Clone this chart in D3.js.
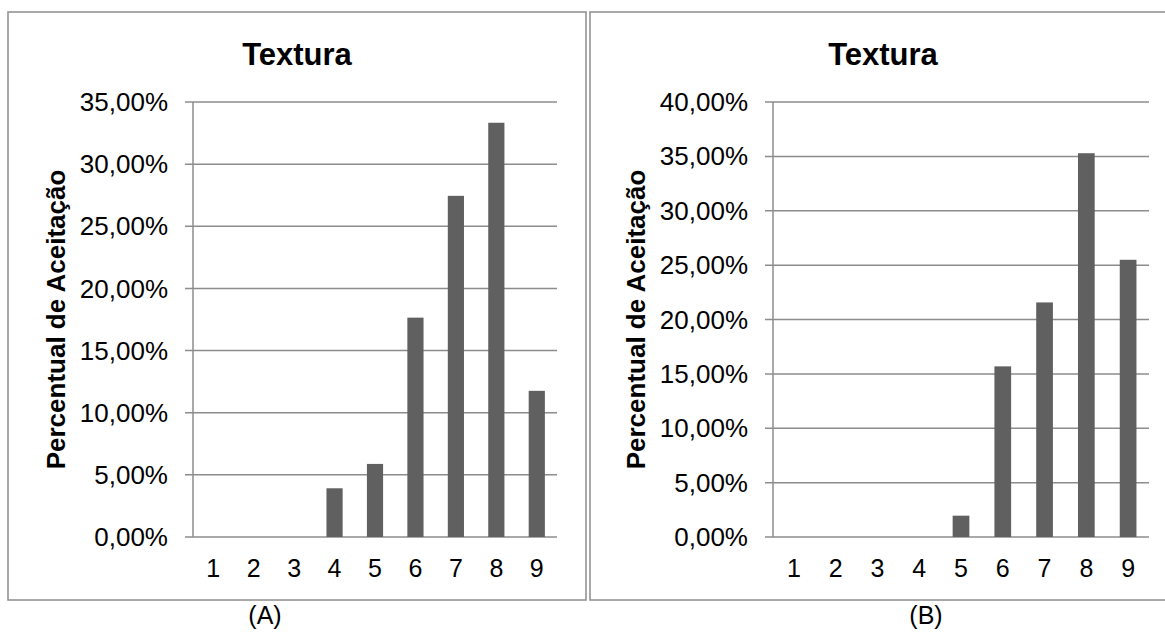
<!DOCTYPE html>
<html>
<head>
<meta charset="utf-8">
<script src="https://cdn.jsdelivr.net/npm/d3@7"></script>
<style>
  html, body { margin: 0; padding: 0; background: #fff; }
  svg { display: block; font-family: "Liberation Sans", Arial, sans-serif; }
</style>
</head>
<body>
<svg id="chart" width="1165" height="632"></svg>
<script>
// ---- data ----
const categories = ["1", "2", "3", "4", "5", "6", "7", "8", "9"];
const valuesA = [0, 0, 0, 0.0392, 0.0588, 0.1765, 0.2745, 0.3333, 0.1176];
const valuesB = [0, 0, 0, 0, 0.0196, 0.1569, 0.2157, 0.3529, 0.2549];
const ticksA = [0, 0.05, 0.10, 0.15, 0.20, 0.25, 0.30, 0.35];
const ticksB = [0, 0.05, 0.10, 0.15, 0.20, 0.25, 0.30, 0.35, 0.40];
const chartTitle = "Textura";
const yAxisTitle = "Percentual de Aceitação";
const panelLabels = ["(A)", "(B)"];

const locale = d3.formatLocale({ decimal: ",", thousands: ".", grouping: [3], currency: ["", ""] });
const fmt = locale.format(".2%");

const svg = d3.select("#chart");
const gridColor = "#8c8c8c";
const barColor = "#606060";

const panels = [
  { bx: 8, by: 12, bw: 578, bh: 588, x0: 193, x1: 557, yTop: 102, yBot: 537, max: 0.35,
    ticks: ticksA, values: valuesA, titleX: 297, yTitleX: 65, labelX: 265, label: panelLabels[0] },
  { bx: 590, by: 12, bw: 600, bh: 588, x0: 773, x1: 1149, yTop: 102, yBot: 537, max: 0.40,
    ticks: ticksB, values: valuesB, titleX: 883, yTitleX: 645, labelX: 926, label: panelLabels[1] }
];

panels.forEach(p => {
  svg.append("rect")
    .attr("x", p.bx).attr("y", p.by).attr("width", p.bw).attr("height", p.bh)
    .attr("fill", "none").attr("stroke", gridColor).attr("stroke-width", 1.5);

  const x = d3.scaleBand().domain(categories).range([p.x0, p.x1]).paddingInner(0.6).paddingOuter(0.3);
  const y = d3.scaleLinear().domain([0, p.max]).range([p.yBot, p.yTop]);

  const g = svg.append("g");

  // gridlines
  g.append("g").selectAll("line").data(p.ticks).join("line")
    .attr("x1", p.x0 - 8).attr("x2", p.x1)
    .attr("y1", d => y(d)).attr("y2", d => y(d))
    .attr("stroke", gridColor).attr("stroke-width", 1.5);

  // y axis line
  g.append("line")
    .attr("x1", p.x0).attr("x2", p.x0).attr("y1", y(p.max)).attr("y2", y(0))
    .attr("stroke", gridColor).attr("stroke-width", 1.5);

  // y tick labels
  g.append("g").selectAll("text").data(p.ticks).join("text")
    .attr("x", p.x0 - 25).attr("y", d => y(d)).attr("dy", "0.35em")
    .attr("text-anchor", "end").attr("font-size", 26).attr("fill", "#000")
    .text(d => fmt(d));

  // bars
  g.append("g").selectAll("rect").data(p.values.map((v, i) => ({ c: categories[i], v }))).join("rect")
    .attr("x", d => x(d.c)).attr("width", x.bandwidth())
    .attr("y", d => y(d.v)).attr("height", d => y(0) - y(d.v))
    .attr("fill", barColor);

  // x labels
  g.append("g").selectAll("text").data(categories).join("text")
    .attr("x", d => x(d) + x.bandwidth() / 2).attr("y", 577)
    .attr("text-anchor", "middle").attr("font-size", 25).attr("fill", "#000")
    .text(d => d);

  // title
  g.append("text").attr("x", p.titleX).attr("y", 65)
    .attr("text-anchor", "middle").attr("font-size", 31).attr("font-weight", "bold")
    .text(chartTitle);

  // y axis title
  g.append("text")
    .attr("transform", `translate(${p.yTitleX},${(p.yTop + p.yBot) / 2}) rotate(-90)`)
    .attr("text-anchor", "middle").attr("font-size", 26).attr("font-weight", "bold")
    .text(yAxisTitle);

  // panel label
  svg.append("text").attr("x", p.labelX).attr("y", 624)
    .attr("text-anchor", "middle").attr("font-size", 25)
    .text(p.label);
});
</script>
</body>
</html>
